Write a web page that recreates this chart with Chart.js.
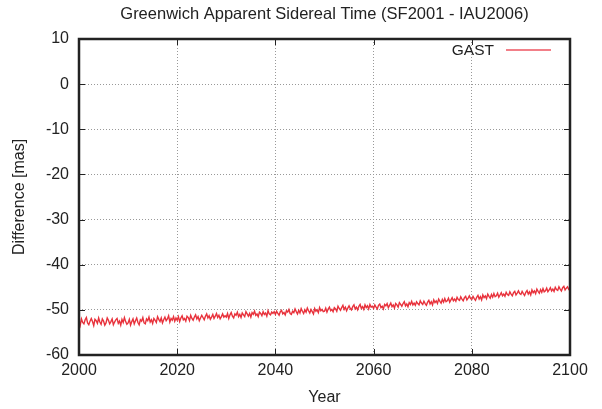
<!DOCTYPE html>
<html>
<head>
<meta charset="utf-8">
<script src="https://cdn.jsdelivr.net/npm/chart.js@4/dist/chart.umd.min.js"></script>
<style>
  html, body { margin: 0; padding: 0; background: #fff; }
  #wrap { position: relative; width: 602px; height: 409px; }
  #key { position: absolute; right: 108px; top: 40px; font: 15.5px 'Liberation Sans', Arial, sans-serif;
         color: #222; line-height: 20px; }
</style>
</head>
<body>
<div id="wrap">
  <canvas id="gastChart" width="602" height="409"></canvas>
  <div id="key">GAST</div>
</div>
<script>
// sampled every quarter year, one list per decade (values in mas)
const startYear = 2000;
const stepYears = 0.25;
const yTicks = [10, 0, -10, -20, -30, -40, -50, -60];
const xTicks = [2000, 2020, 2040, 2060, 2080, 2100];

const gast2000s = [-52.3,-53.4,-52.0,-52.8,-53.1,-52.2,-51.7,-52.9,-53.3,-52.5,
  -51.9,-52.6,-53.5,-52.1,-52.4,-53.0,-51.8,-52.7,-53.2,-52.0,
  -52.5,-53.4,-52.9,-51.8,-52.3,-53.1,-52.6,-52.0,-53.3,-52.7,
  -52.2,-51.9,-53.0,-52.5,-53.4,-52.1,-52.8,-51.7,-52.6,-53.2];
const gast2010s = [-52.9,-52.1,-53.4,-52.6,-52.0,-53.1,-52.4,-51.8,-52.8,-53.3,
  -52.2,-52.5,-51.7,-52.9,-53.1,-52.0,-52.4,-51.6,-52.7,-52.2,
  -53.0,-51.9,-52.3,-52.8,-51.5,-52.1,-52.6,-51.8,-52.9,-52.2,
  -51.6,-52.4,-52.0,-51.3,-52.7,-51.9,-52.3,-51.5,-52.5,-51.8];
const gast2020s = [-52.3,-51.5,-52.6,-51.8,-51.3,-52.2,-51.9,-52.5,-51.4,-51.7,
  -52.4,-51.2,-51.9,-52.3,-51.6,-51.1,-52.0,-51.5,-52.4,-51.8,
  -51.2,-51.7,-52.2,-51.4,-50.9,-51.8,-51.3,-52.1,-51.6,-51.0,
  -51.9,-51.4,-50.8,-51.7,-51.2,-52.0,-51.5,-50.9,-51.6,-51.3];
const gast2030s = [-51.6,-50.8,-51.9,-51.1,-50.6,-51.4,-51.8,-50.9,-51.2,-50.5,
  -51.5,-51.0,-51.7,-50.7,-51.1,-51.5,-50.4,-50.9,-51.4,-50.8,
  -51.6,-50.6,-51.0,-50.3,-51.2,-50.9,-51.5,-50.5,-50.8,-51.3,
  -50.4,-51.0,-50.7,-51.4,-50.2,-50.9,-51.1,-50.5,-50.8,-50.4];
const gast2040s = [-51.0,-50.3,-50.8,-51.2,-50.4,-50.1,-50.9,-50.6,-51.1,-50.2,
  -50.5,-49.9,-50.8,-51.0,-50.3,-50.6,-49.8,-50.4,-50.9,-50.1,
  -50.7,-49.7,-50.3,-50.8,-50.0,-50.5,-49.6,-50.2,-50.7,-49.9,
  -50.4,-50.9,-49.7,-50.3,-50.0,-50.6,-49.5,-50.2,-49.9,-50.4];
const gast2050s = [-50.3,-49.6,-50.5,-49.8,-49.4,-50.2,-49.9,-50.4,-49.5,-49.8,
  -50.3,-49.2,-49.7,-50.1,-49.5,-49.0,-49.9,-49.4,-50.2,-49.6,
  -49.1,-49.7,-50.0,-49.3,-48.9,-49.8,-49.4,-50.0,-49.2,-48.8,
  -49.7,-49.3,-49.9,-48.9,-49.5,-49.1,-49.8,-48.8,-49.4,-49.2];
const gast2060s = [-49.7,-48.9,-49.4,-49.8,-49.0,-48.7,-49.5,-49.2,-49.8,-48.8,
  -49.1,-48.6,-49.5,-49.0,-48.5,-49.3,-48.9,-49.6,-48.6,-48.9,
  -49.4,-48.4,-48.8,-49.2,-48.6,-48.2,-49.1,-48.7,-49.3,-48.4,
  -48.8,-48.1,-48.9,-48.5,-49.0,-48.2,-48.6,-48.9,-48.0,-48.5];
const gast2070s = [-48.8,-48.1,-48.6,-49.0,-48.3,-47.9,-48.7,-48.2,-48.9,-47.8,
  -48.4,-48.0,-48.6,-47.6,-48.1,-48.5,-47.7,-48.3,-47.5,-48.2,
  -48.0,-47.4,-48.3,-47.8,-47.3,-48.0,-47.6,-48.1,-47.2,-47.7,
  -47.9,-47.1,-47.6,-48.0,-47.3,-47.0,-47.8,-47.4,-46.9,-47.5];
const gast2080s = [-47.7,-47.0,-47.5,-47.9,-47.2,-46.8,-47.6,-47.1,-47.8,-46.7,
  -47.3,-46.9,-47.5,-46.5,-47.0,-47.4,-46.6,-47.2,-46.4,-47.1,
  -46.9,-46.3,-47.2,-46.7,-46.2,-46.9,-46.5,-47.0,-46.1,-46.6,
  -46.8,-46.0,-46.5,-46.9,-46.2,-45.9,-46.7,-46.3,-45.8,-46.4];
const gast2090s = [-46.6,-45.9,-46.4,-46.8,-46.1,-45.7,-46.5,-46.0,-46.7,-45.6,
  -46.2,-45.8,-46.4,-45.4,-45.9,-46.3,-45.5,-46.1,-45.3,-46.0,
  -45.8,-45.2,-46.0,-45.6,-45.1,-45.8,-45.4,-45.9,-45.0,-45.5,
  -45.7,-44.9,-45.4,-45.8,-45.1,-44.8,-45.6,-45.2,-44.9,-45.5,
  -45.3];

const gastValues = [].concat(gast2000s, gast2010s, gast2020s, gast2030s, gast2040s,
  gast2050s, gast2060s, gast2070s, gast2080s, gast2090s);
const gastPoints = gastValues.map((v, i) => ({ x: startYear + i * stepYears, y: v }));

const FONT = 'Liberation Sans, Arial, Helvetica, sans-serif';
const TEXT = '#222';

// gnuplot style frame: closed box, inward tick marks, key sample line
const framePlugin = {
    id: 'frame',
    afterDatasetsDraw(chart) {
        const { ctx, chartArea: a, scales } = chart;
        ctx.save();
        ctx.strokeStyle = '#222';
        ctx.lineWidth = 1;
        ctx.beginPath();
        xTicks.forEach(t => {
            const px = Math.round(scales.x.getPixelForValue(t)) + 0.5;
            ctx.moveTo(px, a.bottom); ctx.lineTo(px, a.bottom - 6);
            ctx.moveTo(px, a.top); ctx.lineTo(px, a.top + 6);
        });
        yTicks.forEach(t => {
            const py = Math.round(scales.y.getPixelForValue(t)) + 0.5;
            ctx.moveTo(a.left, py); ctx.lineTo(a.left + 6, py);
            ctx.moveTo(a.right, py); ctx.lineTo(a.right - 6, py);
        });
        ctx.stroke();
        ctx.lineWidth = 2.5;
        ctx.strokeRect(a.left, a.top, a.right - a.left, a.bottom - a.top);

        // key sample
        ctx.strokeStyle = '#ee5560';
        ctx.lineWidth = 1.3;
        ctx.beginPath();
        ctx.moveTo(a.right - 64, a.top + 11);
        ctx.lineTo(a.right - 19, a.top + 11);
        ctx.stroke();
        ctx.restore();
    }
};

const ctx = document.getElementById('gastChart').getContext('2d');
new Chart(ctx, {
    type: 'line',
    data: {
        datasets: [{
            label: 'GAST',
            data: gastPoints,
            borderColor: '#e8323c',
            borderWidth: 1.4,
            pointRadius: 0,
            tension: 0,
            fill: false
        }]
    },
    options: {
        responsive: false,
        animation: false,
        layout: { padding: { left: 0, right: 32, top: 0, bottom: 0 } },
        plugins: {
            title: {
                display: true,
                text: 'Greenwich Apparent Sidereal Time (SF2001 - IAU2006)',
                color: TEXT,
                fullSize: false,
                font: { family: FONT, size: 16.5, weight: 'normal' },
                padding: { top: 5, bottom: 14.2 }
            },
            legend: { display: false },
            tooltip: { enabled: false }
        },
        scales: {
            x: {
                type: 'linear',
                min: 2000,
                max: 2100,
                afterFit(scale) { scale.height = 54; },
                afterBuildTicks(scale) { scale.ticks = xTicks.map(v => ({ value: v })); },
                ticks: {
                    color: TEXT,
                    font: { family: FONT, size: 16 },
                    padding: 6,
                    maxRotation: 0,
                    callback: v => String(v)
                },
                grid: { color: '#999', lineWidth: 1, drawTicks: false },
                border: { display: false, dash: [1, 2] },
                title: {
                    display: true,
                    text: 'Year',
                    color: TEXT,
                    font: { family: FONT, size: 16 },
                    padding: { top: 0, bottom: 2 }
                }
            },
            y: {
                min: -60,
                max: 10,
                afterFit(scale) { scale.width = 79; },
                afterBuildTicks(scale) { scale.ticks = yTicks.map(v => ({ value: v })); },
                ticks: {
                    color: TEXT,
                    font: { family: FONT, size: 16 },
                    padding: 10,
                    callback: v => String(v)
                },
                grid: { color: '#999', lineWidth: 1, drawTicks: false },
                border: { display: false, dash: [1, 2] },
                title: {
                    display: true,
                    text: 'Difference [mas]',
                    color: TEXT,
                    font: { family: FONT, size: 16 },
                    padding: { top: 10, bottom: 0 }
                }
            }
        }
    },
    plugins: [framePlugin]
});
</script>
</body>
</html>
